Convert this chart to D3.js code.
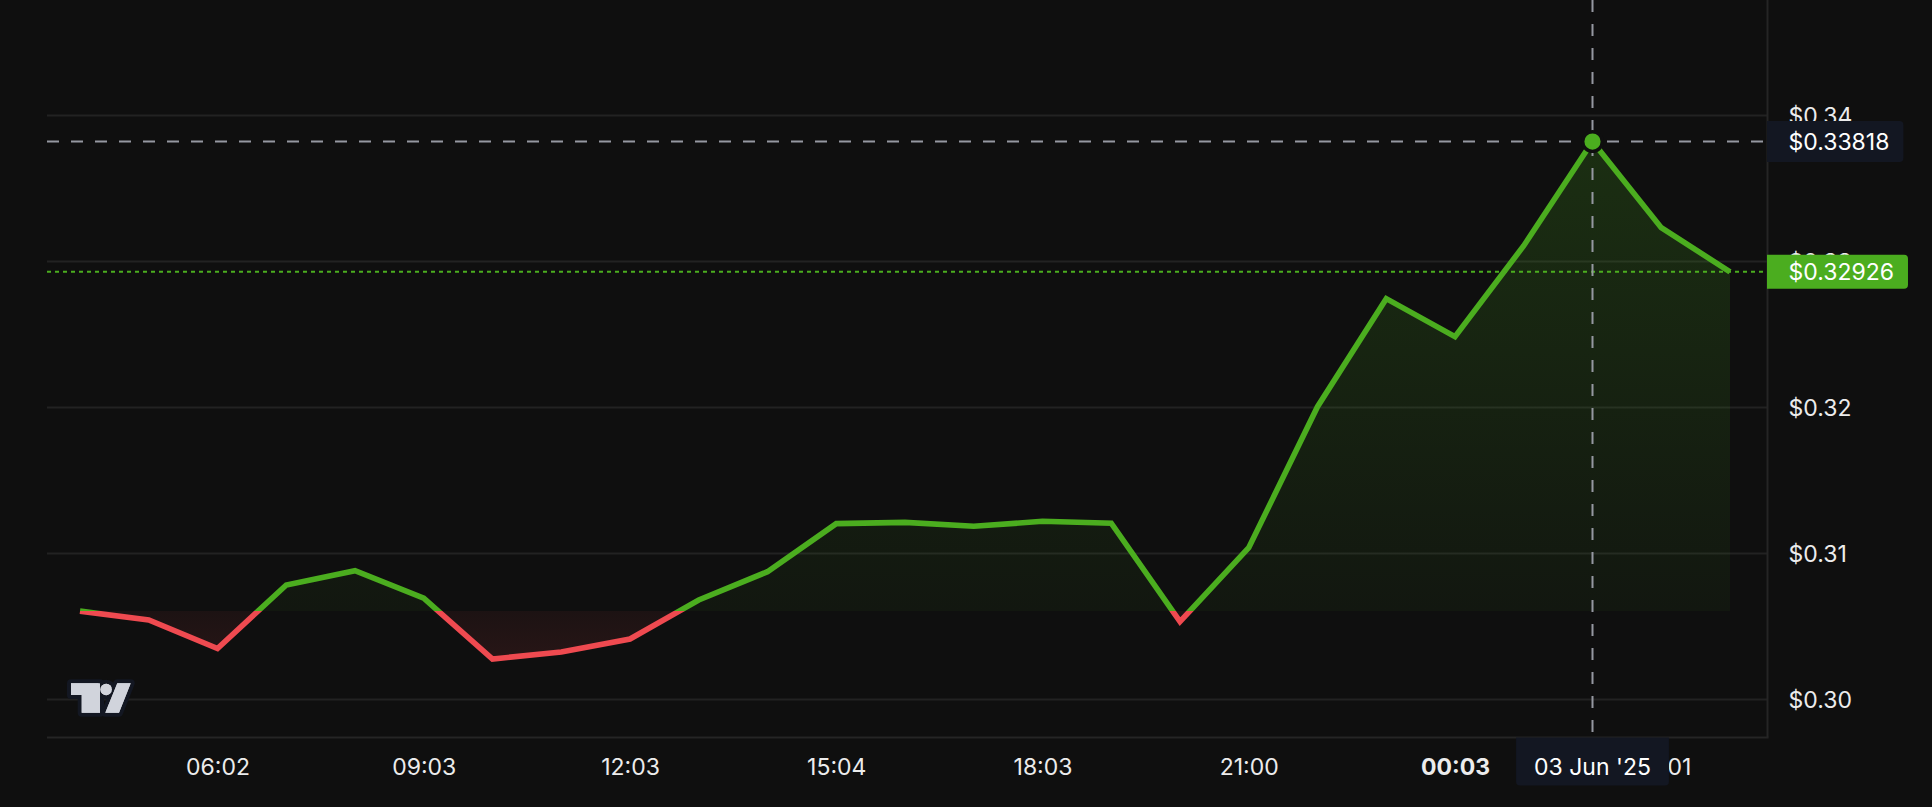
<!DOCTYPE html>
<html>
<head>
<meta charset="utf-8">
<script src="https://cdn.jsdelivr.net/npm/d3@7/dist/d3.min.js"></script>
<style>
  html, body { margin: 0; padding: 0; background: #0f0f0f; }
  svg { display: block; }
  text { font-family: Inter, "Noto Sans", Roboto, sans-serif; }
</style>
</head>
<body>
<svg id="chart" width="1932" height="807"></svg>
<script>
// ---- data ----
const categories = ["04:02","05:02","06:02","07:02","08:03","09:03","10:03","11:03","12:03","13:03",
  "14:04","15:04","16:04","17:03","18:03","19:03","20:01","21:00","22:01","23:02",
  "00:03","01:02","02:02","03:01","04:01"];
const prices = [0.30602, 0.30541, 0.30346, 0.30781, 0.30879, 0.30690, 0.30274, 0.30322, 0.30411, 0.30678,
  0.30872, 0.31201, 0.31210, 0.31183, 0.31217, 0.31204, 0.30530, 0.31036, 0.32002, 0.32742,
  0.32482, 0.33105, 0.33818, 0.33228, 0.32926];
const yTicks = [0.30, 0.31, 0.32, 0.33, 0.34];
const xTickLabels = ["06:02","09:03","12:03","15:04","18:03","21:00","00:03","03:01"];
const boldTicks = ["00:03"];
const crosshairCategory = "02:02";
const crosshairDateLabel = "03 Jun '25";
const crosshairPrice = 0.33818;
const lastPrice = 0.32926;

// ---- style ----
const BG = "#0f0f0f", GRID = "#222222", GREEN = "#4bad1f", RED = "#ef4a50",
      NAVY = "#131722", CROSS = "#9598a1", TXT = "#ececec";
const W = 1932, H = 807;
const plotLeft = 47, plotRight = 1767.5, axisY = 737.5;

const svg = d3.select("#chart");
svg.append("rect").attr("width", W).attr("height", H).attr("fill", BG);

const x = d3.scalePoint().domain(categories).range([80, 1730]).padding(0);
const y = d3.scaleLinear().domain([0.30, 0.34]).range([699, 115]);
const fmt = d => "$" + d.toFixed(2);

const defs = svg.append("defs");
const baseVal = prices[0];
const yb = y(baseVal);
const yMax = y(d3.max(prices)), yMin = y(d3.min(prices));

defs.append("clipPath").attr("id", "above").append("rect")
  .attr("x", 0).attr("y", 0).attr("width", W).attr("height", yb);
defs.append("clipPath").attr("id", "below").append("rect")
  .attr("x", 0).attr("y", yb).attr("width", W).attr("height", H - yb);

const gG = defs.append("linearGradient").attr("id", "gGreen")
  .attr("gradientUnits", "userSpaceOnUse").attr("x1", 0).attr("x2", 0).attr("y1", yMax).attr("y2", yb);
gG.append("stop").attr("offset", 0).attr("stop-color", GREEN).attr("stop-opacity", 0.2);
gG.append("stop").attr("offset", 1).attr("stop-color", GREEN).attr("stop-opacity", 0.05);
const gR = defs.append("linearGradient").attr("id", "gRed")
  .attr("gradientUnits", "userSpaceOnUse").attr("x1", 0).attr("x2", 0).attr("y1", yb).attr("y2", yMin);
gR.append("stop").attr("offset", 0).attr("stop-color", RED).attr("stop-opacity", 0.06);
gR.append("stop").attr("offset", 1).attr("stop-color", RED).attr("stop-opacity", 0.11);

// grid
svg.append("g").selectAll("line").data(yTicks).join("line")
  .attr("x1", plotLeft).attr("x2", plotRight)
  .attr("y1", d => Math.round(y(d)) + 0.5).attr("y2", d => Math.round(y(d)) + 0.5)
  .attr("stroke", GRID).attr("stroke-width", 2);

// areas
const pts = categories.map((c, i) => [c, prices[i]]);
const area = d3.area().x(d => x(d[0])).y0(yb).y1(d => y(d[1]));
svg.append("path").datum(pts).attr("d", area).attr("fill", "url(#gGreen)").attr("clip-path", "url(#above)");
svg.append("path").datum(pts).attr("d", area).attr("fill", "url(#gRed)").attr("clip-path", "url(#below)");

// axis borders
svg.append("line").attr("x1", plotLeft).attr("x2", plotRight + 1).attr("y1", axisY).attr("y2", axisY)
  .attr("stroke", "#252525").attr("stroke-width", 2);
svg.append("line").attr("x1", plotRight).attr("x2", plotRight).attr("y1", 0).attr("y2", axisY)
  .attr("stroke", "#252525").attr("stroke-width", 2);

// series line
const line = d3.line().x(d => x(d[0])).y(d => y(d[1]));
svg.append("path").datum(pts).attr("d", line).attr("fill", "none").attr("stroke", GREEN)
  .attr("stroke-width", 5.6).attr("stroke-linejoin", "miter").attr("clip-path", "url(#above)");
svg.append("path").datum(pts).attr("d", line).attr("fill", "none").attr("stroke", RED)
  .attr("stroke-width", 5.6).attr("stroke-linejoin", "miter").attr("clip-path", "url(#below)");

// last price dotted line
svg.append("line").attr("x1", plotLeft).attr("x2", plotRight).attr("y1", y(lastPrice)).attr("y2", y(lastPrice))
  .attr("stroke", GREEN).attr("stroke-width", 2).attr("stroke-dasharray", "4 4");

// crosshair
const cx = x(crosshairCategory), cy = y(crosshairPrice);
svg.append("line").attr("x1", cx).attr("x2", cx).attr("y1", 0).attr("y2", axisY)
  .attr("stroke", CROSS).attr("stroke-width", 2).attr("stroke-dasharray", "12 12");
svg.append("line").attr("x1", plotLeft).attr("x2", plotRight).attr("y1", cy).attr("y2", cy)
  .attr("stroke", CROSS).attr("stroke-width", 2).attr("stroke-dasharray", "12 12");
svg.append("circle").attr("cx", cx).attr("cy", cy).attr("r", 9.8)
  .attr("fill", GREEN).attr("stroke", BG).attr("stroke-width", 3.4);

// y axis labels
const yAxis = svg.append("g").attr("transform", `translate(${plotRight},0)`)
  .call(d3.axisRight(y).tickValues(yTicks).tickSize(0).tickPadding(21).tickFormat(fmt));
yAxis.select(".domain").remove();
yAxis.selectAll("text").attr("fill", TXT).attr("font-size", 23).attr("dy", "0.35em")
  .attr("font-family", "Inter, 'Noto Sans', sans-serif");

// x axis labels
const xAxis = svg.append("g").attr("transform", `translate(0,${axisY})`)
  .call(d3.axisBottom(x).tickValues(xTickLabels).tickSize(0));
xAxis.select(".domain").remove();
xAxis.selectAll("text").attr("fill", TXT).attr("font-size", 23).attr("y", 29.5).attr("dy", "0.35em")
  .attr("font-family", "Inter, 'Noto Sans', sans-serif")
  .attr("font-weight", d => boldTicks.includes(d) ? 700 : 400);

// price label helper
function priceLabel(val, bg, h) {
  const g = svg.append("g");
  const yc = y(val);
  const path = g.append("path").attr("fill", bg);
  const t = g.append("text").attr("x", plotRight + 21).attr("y", yc).attr("dy", "0.35em")
    .attr("fill", "#ffffff").attr("font-size", 23).text("$" + val.toFixed(5));
  const w = t.node().getBBox().width;
  const x0 = plotRight - 0.5, x1 = plotRight + 21 + w + 14, r = 4;
  path.attr("d", `M${x0},${yc - h/2} H${x1 - r} Q${x1},${yc - h/2} ${x1},${yc - h/2 + r} V${yc + h/2 - r} Q${x1},${yc + h/2} ${x1 - r},${yc + h/2} H${x0} Z`);
}
priceLabel(crosshairPrice, NAVY, 41);
priceLabel(lastPrice, GREEN, 34);

// crosshair date label
{
  const g = svg.append("g");
  const path = g.append("path").attr("fill", NAVY);
  const t = g.append("text").attr("x", cx).attr("y", axisY + 29.5).attr("dy", "0.35em")
    .attr("text-anchor", "middle").attr("fill", "#ffffff").attr("font-size", 23).text(crosshairDateLabel);
  const w = t.node().getBBox().width;
  const x0 = cx - w / 2 - 18, x1 = cx + w / 2 + 18, y0 = axisY, y1 = axisY + 48, r = 4;
  path.attr("d", `M${x0},${y0} H${x1} V${y1 - r} Q${x1},${y1} ${x1 - r},${y1} H${x0 + r} Q${x0},${y1} ${x0},${y1 - r} Z`);
}

// logo
{
  const g = svg.append("g").attr("fill", "#d1d4dc").attr("stroke", NAVY).attr("stroke-width", 8)
    .attr("stroke-linejoin", "round").attr("paint-order", "stroke");
  g.append("path").attr("d", "M71,683.3 H100 V712.7 H81.7 V695 H71 Z");
  g.append("circle").attr("cx", 106.2).attr("cy", 689.5).attr("r", 5.8);
  g.append("path").attr("d", "M117.3,683.3 H130.7 L119,712.7 H105.3 Z");
  const g2 = svg.append("g").attr("fill", "#d1d4dc");
  g2.append("path").attr("d", "M71,683.3 H100 V712.7 H81.7 V695 H71 Z");
  g2.append("circle").attr("cx", 106.2).attr("cy", 689.5).attr("r", 5.8);
  g2.append("path").attr("d", "M117.3,683.3 H130.7 L119,712.7 H105.3 Z");
}
</script>
</body>
</html>
